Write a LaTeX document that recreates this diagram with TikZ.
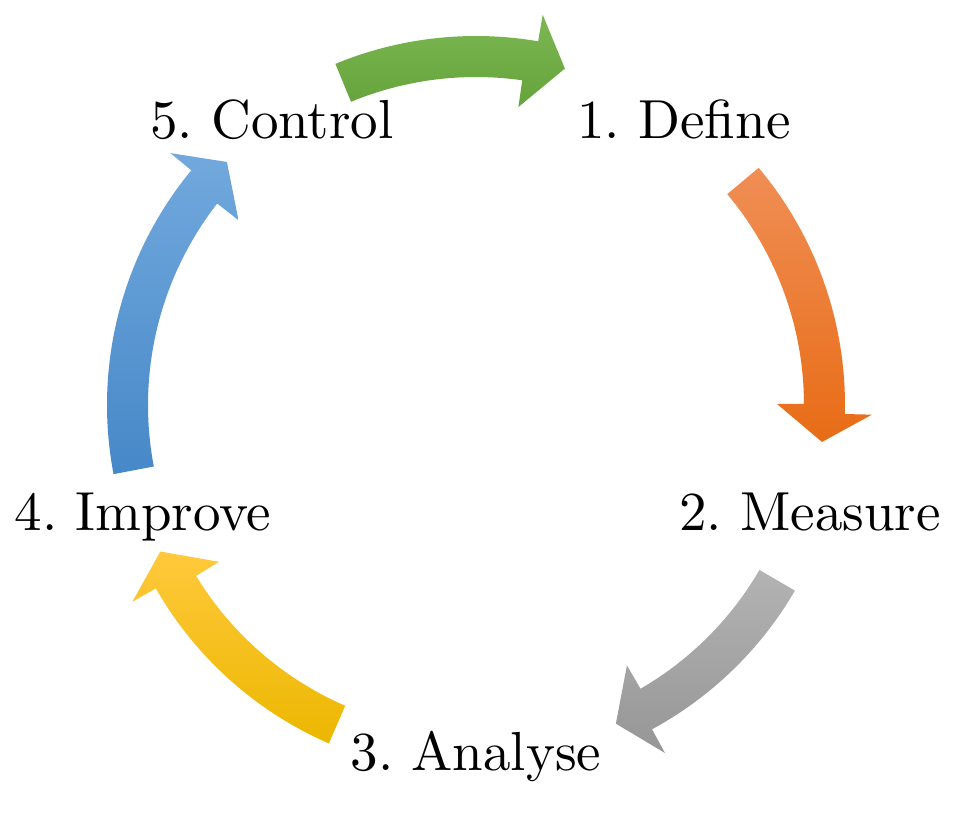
\documentclass[tikz,border=0pt]{standalone}
\definecolor{gtop}{HTML}{7CB753}
\definecolor{gbot}{HTML}{66A33B}
\definecolor{otop}{HTML}{F08E55}
\definecolor{obot}{HTML}{E86C16}
\definecolor{stop}{HTML}{B3B3B3}
\definecolor{sbot}{HTML}{969696}
\definecolor{ytop}{HTML}{FFC93C}
\definecolor{ybot}{HTML}{ECB700}
\definecolor{btop}{HTML}{72A9DD}
\definecolor{bbot}{HTML}{4688C8}
% #1 tail angle, #2 head base angle, #3 tip angle, #4 top colour, #5 bottom colour
\newcommand\cycarrow[5]{%
  \shade[top color=#4, bottom color=#5]
    (#1:369) arc[start angle=#1, end angle=#2, radius=369]
    -- (#2:396) -- (#3:348) -- ({#2+1.6}:301) -- ({#2+1.6}:328)
    arc[start angle={#2+1.6}, end angle=#1, radius=328] -- cycle;}
\newcommand\bigtxt[1]{\scalebox{5.5}{\fontsize{10}{12}\selectfont\frenchspacing #1}}
\begin{document}
\begin{tikzpicture}[x=1pt,y=1pt,
  lbl/.style={anchor=base, inner sep=0pt}]
\useasboundingbox (-476,-410) rectangle (494,405);
\cycarrow{112.4}{80.3}{75.2}{gtop}{gbot}
\cycarrow{40.0}{-1.4}{-6.1}{otop}{obot}
\cycarrow{-30.2}{-61.5}{-66.3}{stop}{sbot}
\cycarrow{246.5}{209.8}{204.9}{ytop}{ybot}
\cycarrow{190.8}{140.5}{135.7}{btop}{bbot}
\node[lbl] (define)  at (208,267)   {\bigtxt{1. Define}};
\node[lbl] (measure) at (334,-125)  {\bigtxt{2. Measure}};
\node[lbl] (analyse) at (0,-365)    {\bigtxt{3. Analyse}};
\node[lbl] (improve) at (-333,-125) {\bigtxt{4. Improve}};
\node[lbl] (control) at (-204,267)  {\bigtxt{5. Control}};
\end{tikzpicture}
\end{document}
